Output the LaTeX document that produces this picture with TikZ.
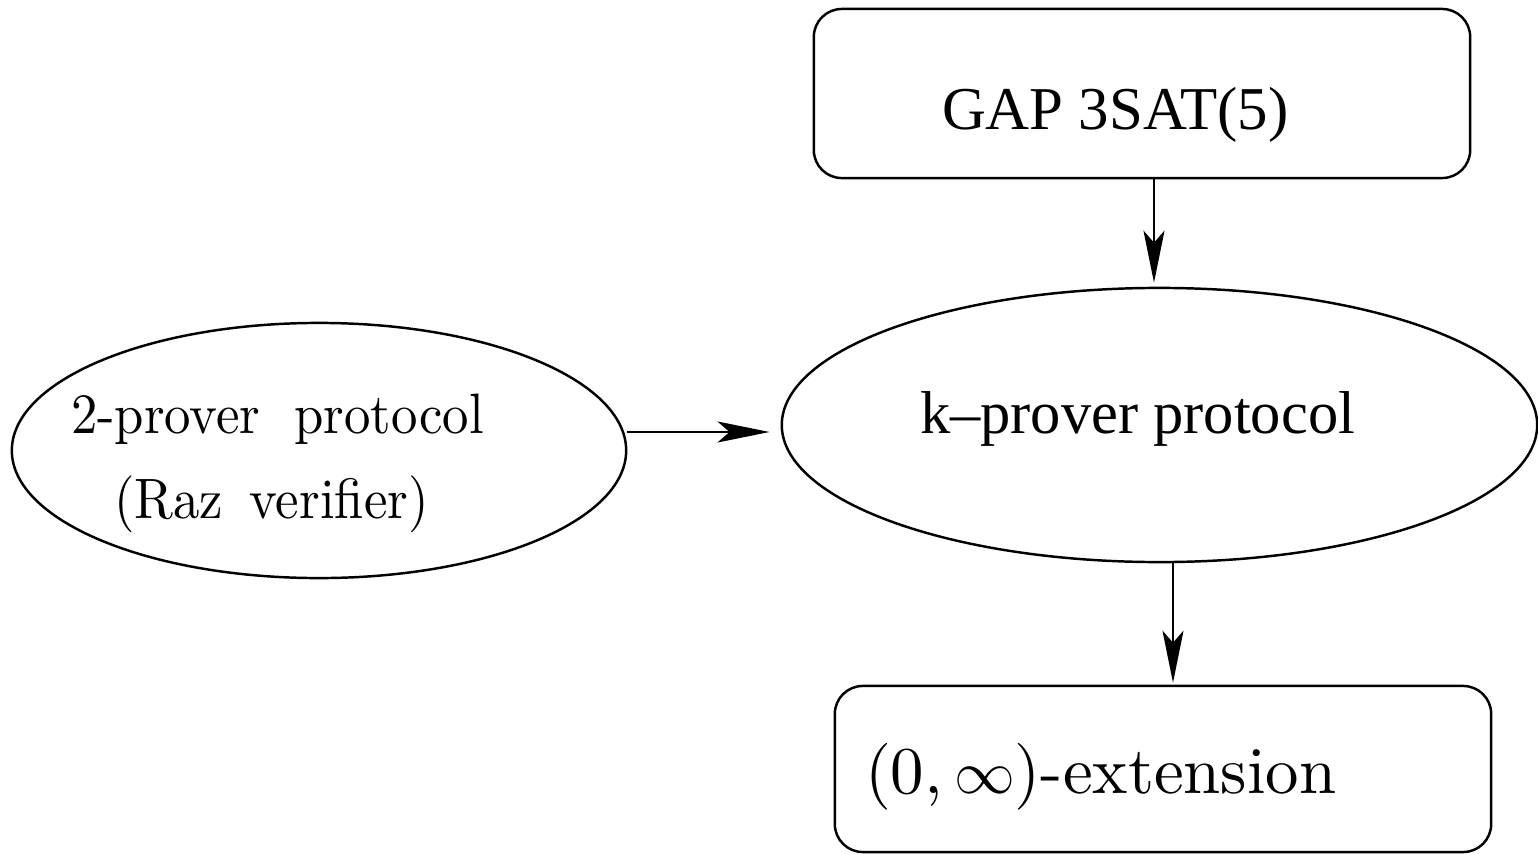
\documentclass[tikz,border=0pt]{standalone}
\usepackage{fontspec}
\usepackage{graphicx}
\usetikzlibrary{arrows.meta,shapes.geometric}
\newfontfamily\timesf{Liberation Serif}
\newfontfamily\cmten{lmroman10-regular.otf}
\tikzset{
  figline/.style={line width=0.7pt, draw=black},
  rbox/.style={figline, rectangle, rounded corners=0.28cm, inner sep=0pt},
  ell/.style={figline, ellipse, inner sep=0pt},
  txt/.style={anchor=base west, inner sep=0pt, outer sep=0pt},
  arr/.style={figline, -{Stealth[length=5.2mm, width=2.1mm, inset=1.2mm]}},
}
\begin{document}
\begin{tikzpicture}[x=0.01cm, y=-0.01cm]
\useasboundingbox (0,0) rectangle (1538,854);
% shapes
\node[rbox, minimum width=6.56cm, minimum height=1.69cm] (gap) at (1142,93.5) {};
\node[ell, minimum width=7.55cm, minimum height=2.74cm] (kp) at (1159.5,425) {};
\node[ell, minimum width=6.14cm, minimum height=2.55cm] (lp) at (319,450.5) {};
\node[rbox, minimum width=6.56cm, minimum height=1.66cm] (ext) at (1163,769) {};
% texts
\node[txt] (gapt) at (942,129) {\fontsize{17.3}{20}\timesf GAP 3SAT(5)};
\node[txt] (kpt) at (920,433) {\fontsize{17.2}{20}\timesf k\textendash prover protocol};
\node[txt] (lpt1) at (71,433) {\scalebox{1}[1.08]{\fontsize{15}{17}\cmten 2-prover\hspace{0.65em}protocol}};
\node[txt] (lpt2) at (114,518) {\scalebox{1}[1.08]{\fontsize{15}{17}\cmten (Raz\hspace{0.5em}verifier)}};
\node[txt] (extt) at (865,793) {\fontsize{19}{22}\cmten (0,\,$\infty$)-extension};
% connectors
\coordinate (c1) at (1154,0);
\coordinate (c2) at (0,432);
\coordinate (c3) at (1173,0);
\draw[arr, shorten >=0.04cm] (gap.south -| c1) -- (kp.north -| c1);
\draw[arr, shorten >=0.11cm] (lp.east |- c2) -- (kp.west |- c2);
\draw[arr, shorten >=0.02cm] ([yshift=0.02cm]kp.south -| c3) -- (ext.north -| c3);
\end{tikzpicture}
\end{document}
